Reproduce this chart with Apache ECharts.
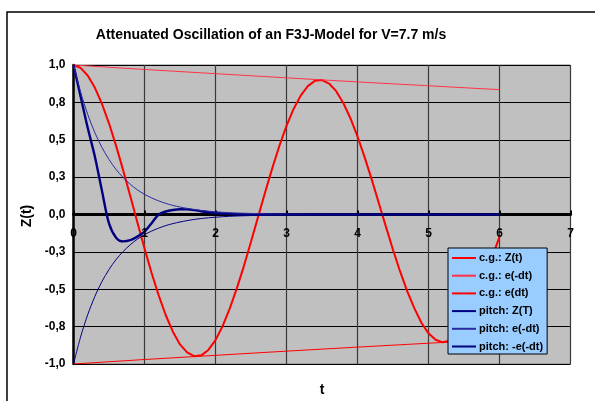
<!DOCTYPE html>
<html>
<head>
<meta charset="utf-8">
<script src="https://cdn.jsdelivr.net/npm/echarts@6/dist/echarts.min.js"></script>
<style>html,body{margin:0;padding:0;background:#fff;}#c{width:595px;height:401px;}</style>
</head>
<body>
<div id="c"></div>
<script>
// ---- data ----
const tCg = [0,0.1,0.2,0.3,0.4,0.5,0.6,0.7,0.8,0.9,
  1.0,1.1,1.2,1.3,1.4,1.5,1.6,1.7,1.8,1.9,
  2.0,2.1,2.2,2.3,2.4,2.5,2.6,2.7,2.8,2.9,
  3.0,3.1,3.2,3.3,3.4,3.5,3.6,3.7,3.8,3.9,
  4.0,4.1,4.2,4.3,4.4,4.5,4.6,4.7,4.8,4.9,
  5.0,5.1,5.2,5.3,5.4,5.5,5.6,5.7,5.8,5.9,
  6.0];
const zCg = [1.000,0.981,0.930,0.849,0.741,0.610,0.459,0.295,0.123,-0.053,
  -0.226,-0.391,-0.541,-0.674,-0.784,-0.869,-0.922,-0.948,-0.942,-0.906,
  -0.840,-0.747,-0.630,-0.494,-0.345,-0.182,-0.016,0.150,0.310,0.460,
  0.593,0.706,0.795,0.859,0.894,0.899,0.876,0.825,0.746,0.644,
  0.522,0.384,0.235,0.077,-0.081,-0.236,-0.381,-0.513,-0.626,-0.724,
  -0.795,-0.838,-0.855,-0.844,-0.805,-0.741,-0.652,-0.544,-0.418,-0.280,
  -0.150];
const tEnvCg = [0,1,2,3,4,5,6];
const envCgUp = [1.000,0.970,0.942,0.914,0.887,0.861,0.835];
const envCgLow = [-1.000,-0.970,-0.942,-0.914,-0.887,-0.861,-0.835];

const tPitch = [0,0.1,0.2,0.3,0.4,0.5,0.6,0.7,0.8,0.9,
  1.0,1.1,1.2,1.3,1.4,1.5,1.6,1.7,1.8,1.9,
  2.0,2.2,2.5,3,4,5,6];
const zPitch = [1.0,0.79,0.58,0.39,0.16,-0.06,-0.155,-0.18,-0.172,-0.148,
  -0.115,-0.058,0.0,0.02,0.03,0.035,0.034,0.029,0.022,0.015,
  0.01,0.004,0.0,0.0,0.0,0.0,0.0];
const envPitchUp = [1.0,0.819,0.670,0.549,0.449,0.368,0.301,0.247,0.202,0.165,
  0.135,0.111,0.091,0.074,0.061,0.050,0.041,0.033,0.027,0.022,
  0.018,0.012,0.007,0.002,0.0003,0.0,0.0];
const envPitchLow = [-1.0,-0.819,-0.670,-0.549,-0.449,-0.368,-0.301,-0.247,-0.202,-0.165,
  -0.135,-0.111,-0.091,-0.074,-0.061,-0.050,-0.041,-0.033,-0.027,-0.022,
  -0.018,-0.012,-0.007,-0.002,-0.0003,0.0,0.0];

const seriesNames = ['c.g.: Z(t)','c.g.: e(-dt)','c.g.: e(dt)','pitch: Z(T)','pitch: e(-dt)','pitch: -e(-dt)'];
const yTickValues = [-1,-0.75,-0.5,-0.25,0,0.25,0.5,0.75,1];
const yTickLabels = ['-1,0','-0,8','-0,5','-0,3','0,0','0,3','0,5','0,8','1,0'];
const xTickValues = [0,1,2,3,4,5,6,7];
const xTickLabels = ['0','1','2','3','4','5','6','7'];

// ---- chart ----
const pairs = (xs, ys) => xs.map((x, i) => [x, ys[i]]);
const FONT = 'Liberation Sans, Arial, sans-serif';
const chart = echarts.init(document.getElementById('c'), null, {renderer: 'canvas'});

function line(name, xs, ys, color, width, smooth) {
  return {
    name, type: 'line', data: pairs(xs, ys), symbol: 'none', smooth: smooth || false,
    lineStyle: {color, width}, itemStyle: {color}, animation: false
  };
}

const staticGraphics = [
  {type: 'rect', shape: {x: 7, y: 12, width: 700, height: 500}, style: {fill: 'none', stroke: '#000', lineWidth: 1.5}, z: 0, silent: true},
  {type: 'text', x: 27, y: 216, rotation: Math.PI / 2,
   style: {text: 'Z(t)', fontFamily: FONT, fontSize: 14, fontWeight: 'bold', fill: '#000', align: 'center', verticalAlign: 'middle'}},
  {type: 'text', x: 322, y: 390,
   style: {text: 't', fontFamily: FONT, fontSize: 14, fontWeight: 'bold', fill: '#000', align: 'center', verticalAlign: 'middle'}}
];

chart.setOption({
  animation: false,
  backgroundColor: '#ffffff',
  title: {
    text: 'Attenuated Oscillation of an F3J-Model for V=7.7 m/s',
    left: 266, top: 23, textAlign: 'center',
    textStyle: {fontFamily: FONT, fontSize: 14, fontWeight: 'bold', color: '#000'}
  },
  grid: {
    left: 73.5, top: 65, width: 497, height: 299,
    show: true, backgroundColor: '#C0C0C0', borderColor: '#808080', borderWidth: 1
  },
  legend: {
    orient: 'vertical', left: 448, top: 248,
    backgroundColor: '#99CCFF', borderColor: '#000', borderWidth: 1,
    padding: [2.5, 4, 0, 3], itemWidth: 24, itemHeight: 14, itemGap: 2.7,
    itemStyle: {opacity: 0},
    textStyle: {fontFamily: FONT, fontSize: 11, fontWeight: 'bold', color: '#000', lineHeight: 15, padding: [0,0,0,-2]},
    data: seriesNames
  },
  xAxis: {
    type: 'value', min: 0, max: 7, interval: 1,
    axisLine: {onZero: true, lineStyle: {color: '#000', width: 3}},
    axisTick: {show: true, inside: true, length: 4, lineStyle: {color: '#000', width: 2}},
    axisLabel: {show: false},
    splitLine: {show: true, lineStyle: {color: '#3a3a3a', width: 1.2}}
  },
  yAxis: {
    type: 'value', min: -1, max: 1, interval: 0.25,
    axisLine: {onZero: true, lineStyle: {color: '#000', width: 2.5}},
    axisTick: {show: false},
    axisLabel: {
      margin: 8, fontFamily: FONT, fontSize: 12, fontWeight: 'bold', color: '#000',
      formatter: v => {
        const i = yTickValues.findIndex(t => Math.abs(t - v) < 1e-6);
        return i >= 0 ? yTickLabels[i] : '';
      }
    },
    splitLine: {show: true, lineStyle: {color: '#000', width: 1}}
  },
  graphic: staticGraphics,
  series: [
    line(seriesNames[0], tCg, zCg, '#FF0000', 2),
    line(seriesNames[1], tEnvCg, envCgUp, '#FF3344', 1),
    line(seriesNames[2], tEnvCg, envCgLow, '#FF0000', 1),
    line(seriesNames[3], tPitch, zPitch, '#000080', 2.4, 0.3),
    line(seriesNames[4], tPitch, envPitchUp, '#2A2AA0', 1, 0.3),
    line(seriesNames[5], tPitch, envPitchLow, '#000080', 1, 0.3)
  ]
});

// x tick labels sit just under the zero line, positioned through the chart's own scale
const xLabelGraphics = xTickValues.map((v, i) => {
  const p = chart.convertToPixel({gridIndex: 0}, [v, 0]);
  return {type: 'text', x: p[0], y: p[1] + 19, z: 10,
    style: {text: xTickLabels[i], fontFamily: FONT, fontSize: 12, fontWeight: 'bold', fill: '#000', align: 'center', verticalAlign: 'middle'}};
});
chart.setOption({graphic: staticGraphics.concat(xLabelGraphics)});
</script>
</body>
</html>
